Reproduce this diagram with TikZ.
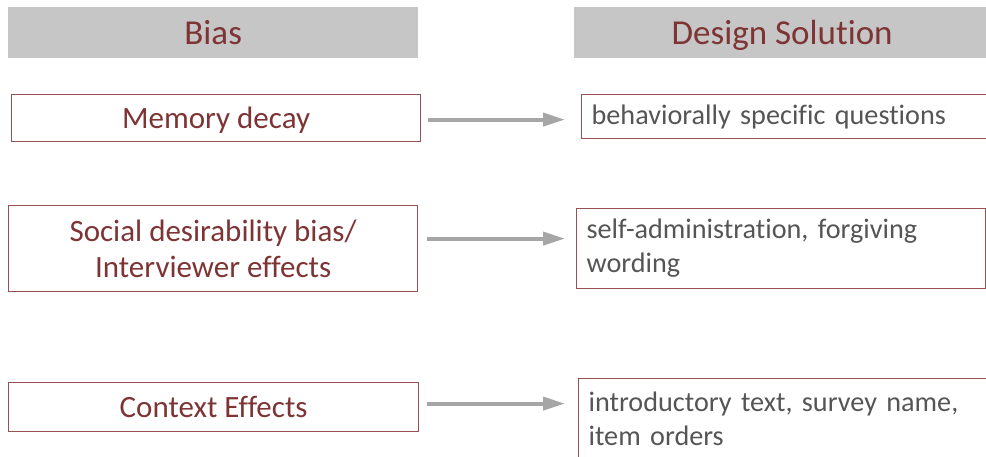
\documentclass[tikz,border=0pt]{standalone}
\usepackage{fontspec}
\setmainfont{Carlito}[Ligatures=NoCommon]
\usetikzlibrary{arrows.meta,calc}
\definecolor{hdrfill}{RGB}{198,198,198}
\definecolor{biasred}{RGB}{126,52,52}
\definecolor{boxline}{RGB}{150,82,82}
\definecolor{soltext}{RGB}{85,85,85}
\definecolor{arrgray}{RGB}{166,166,166}
\tikzset{
  header/.style={fill=hdrfill, draw=none, anchor=north west, inner sep=0pt,
    text=biasred, font=\fontsize{35}{40}\selectfont, text height=28pt, text depth=4.4pt},
  biasbox/.style={draw=boxline, line width=1.2pt, anchor=north west, inner sep=0pt,
    align=center, text=biasred, font=\fontsize{31}{36}\selectfont},
  oneline/.style={text height=25pt, text depth=3.4pt},
  solbox/.style={draw=boxline, line width=1.2pt, anchor=north west, inner ysep=0pt,
    inner xsep=10pt, align=left, text=soltext, font=\fontsize{28.2}{34}\selectfont},
  flow/.style={draw=arrgray, line width=4pt, -{Triangle[length=22pt,width=13pt]}},
}
\begin{document}
\begin{tikzpicture}[x=1pt,y=-1pt]
  \useasboundingbox (0,0) rectangle (986,456);
  \clip (0,0) rectangle (986,456);

  % column headers
  \node[header, minimum width=410pt, minimum height=51pt] (hbias) at (8,7) {Bias};
  \node[header, minimum width=416pt, minimum height=51pt] (hsol) at (574,7) {Design Solution};

  % biases
  \node[biasbox, oneline, minimum width=409pt, minimum height=47pt] (b1) at (11,94) {Memory decay};
  \node[biasbox, minimum width=409pt, minimum height=86pt] (b2) at (8,205) {Social desirability bias/\\Interviewer effects};
  \node[biasbox, oneline, minimum width=410pt, minimum height=49pt] (b3) at (8,382) {Context Effects};

  % design solutions
  \node[solbox, minimum width=420pt, minimum height=44pt, text width=400pt] (s1) at (581,94) {behaviorally specific questions};
  \node[solbox, minimum width=409pt, minimum height=80pt, text width=389pt] (s2) at (576,208) {self-administration, forgiving\\wording};
  \node[solbox, minimum width=420pt, minimum height=80pt, text width=400pt] (s3) at (578,378) {introductory text, survey name,\\item orders};

  % arrows from bias to solution
  \draw[flow] ($(b1.east)+(7,1.5)$) -- ($(s1.west |- b1.east)+(-16,1.5)$);
  \draw[flow] ($(b2.east)+(9,-10)$) -- ($(s2.west |- b2.east)+(-11,-10)$);
  \draw[flow] ($(b3.east)+(8,-3.5)$) -- ($(s3.west |- b3.east)+(-13,-3.5)$);
\end{tikzpicture}
\end{document}
